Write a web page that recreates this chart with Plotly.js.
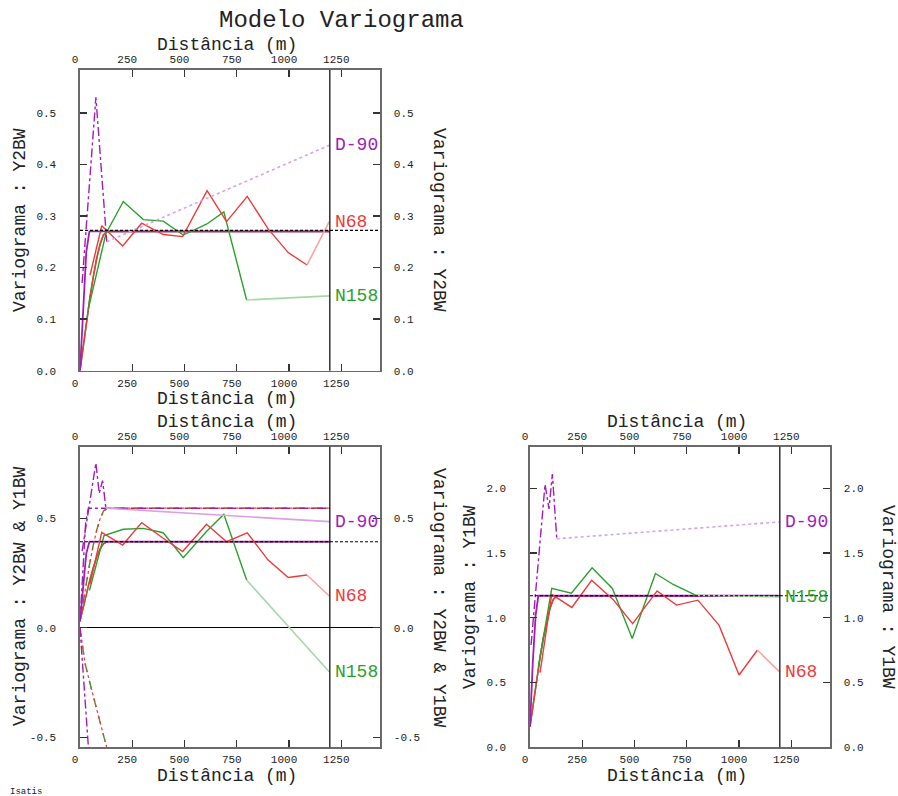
<!DOCTYPE html>
<html>
<head>
<meta charset="utf-8">
<script src="https://cdn.plot.ly/plotly-3.0.1.min.js"></script>
<style>html,body{margin:0;padding:0;background:#fff;}#chart{width:898px;height:796px;}</style>
</head>
<body>
<div id="chart"></div>
<script>
// ---------- shared ----------
const xTicks = [0, 250, 500, 750, 1000, 1250];
const xMax = 1435;
const maxDist = 1195;
const dirNames = ['D-90', 'N68', 'N158'];

// ---------- top-left: Y2BW ----------
const tlN68H  = [48, 104, 204, 295, 398, 491, 608, 701, 800, 900, 996, 1086, 1192];
const tlN68G  = [0.185, 0.281, 0.242, 0.286, 0.264, 0.260, 0.349, 0.289, 0.338, 0.275, 0.229, 0.205, 0.289];
const tlN158H = [40, 124, 207, 303, 398, 494, 605, 688, 797, 1192];
const tlN158G = [0.12, 0.266, 0.328, 0.293, 0.290, 0.263, 0.284, 0.308, 0.137, 0.145];
const tlD90H  = [10, 76, 128, 1192];
const tlD90G  = [0.17, 0.530, 0.250, 0.437];
const tlModelH  = [0, 16, 32, 48, 64, 80, 96, 112, 130, 1195];
const tlModelG  = [0, 0.050, 0.098, 0.143, 0.183, 0.218, 0.245, 0.263, 0.270, 0.270];
const tlModelDH = [0, 15, 30, 45, 1195];
const tlModelDG = [0, 0.130, 0.230, 0.270, 0.270];
const tlSill = 0.272;
const tlYTicks = [0, 0.1, 0.2, 0.3, 0.4, 0.5];
const tlYMax = 0.583;

// ---------- bottom-left: Y2BW & Y1BW ----------
const blN68H  = [48, 104, 204, 295, 398, 491, 605, 701, 800, 900, 996, 1086, 1192];
const blN68G  = [0.20, 0.436, 0.378, 0.480, 0.409, 0.348, 0.473, 0.393, 0.434, 0.309, 0.230, 0.241, 0.145];
const blN158H = [45, 115, 207, 303, 398, 494, 605, 688, 797, 1192];
const blN158G = [0.17, 0.421, 0.450, 0.454, 0.434, 0.320, 0.440, 0.518, 0.218, -0.201];
const blD90H  = [10, 76, 92, 108, 124, 1192];
const blD90G  = [0.35, 0.752, 0.614, 0.672, 0.546, 0.485];
const blModelH    = [0, 16, 32, 48, 64, 80, 96, 112, 130, 1195];
const blModelLow  = [0.03, 0.097, 0.161, 0.222, 0.276, 0.323, 0.359, 0.383, 0.393, 0.393];
const blModelHigh = [0.03, 0.125, 0.217, 0.302, 0.380, 0.446, 0.497, 0.532, 0.546, 0.546];
const blModelDLowH  = [0, 15, 30, 45, 1195];
const blModelDLowG  = [0.03, 0.205, 0.339, 0.393, 0.393];
const blModelDHighH = [0, 13, 27, 40, 1195];
const blModelDHighG = [0.03, 0.278, 0.478, 0.546, 0.546];
const blHullH  = [0, 24, 56, 96, 127, 160];
const blHullG  = [0, -0.163, -0.285, -0.437, -0.544, -0.62];
const blHullDH = [0, 20, 42];
const blHullDG = [0, -0.28, -0.57];
const blSill = 0.393;
const blYTicks = [-0.5, 0, 0.5];
const blYMin = -0.546, blYMax = 0.827;

// ---------- bottom-right: Y1BW ----------
const brN68H  = [48, 104, 200, 295, 398, 491, 608, 701, 803, 904, 1000, 1088, 1192];
const brN68G  = [0.576, 1.18, 1.08, 1.29, 1.14, 0.955, 1.208, 1.098, 1.136, 0.943, 0.558, 0.751, 0.584];
const brN158H = [40, 104, 198, 297, 394, 489, 600, 685, 792, 1192];
const brN158G = [0.62, 1.227, 1.19, 1.386, 1.227, 0.84, 1.342, 1.257, 1.175, 1.16];
const brD90H  = [5, 72, 91, 107, 128, 1192];
const brD90G  = [0.79, 2.03, 1.84, 2.11, 1.61, 1.74];
const brModelH  = [0, 16, 32, 48, 64, 80, 96, 112, 130, 1195];
const brModelG  = [0.16, 0.346, 0.526, 0.693, 0.846, 0.975, 1.075, 1.143, 1.17, 1.17];
const brModelDH = [0, 13, 27, 40, 1195];
const brModelDG = [0.16, 0.646, 1.02, 1.17, 1.17];
const brSill = 1.17;
const brYTicks = [0, 0.5, 1.0, 1.5, 2.0];
const brYMax = 2.321;

// ---------- styling ----------
const FONT = '"Liberation Mono", "Courier New", monospace';
const RED = '#ee3a3a', RED_L = '#f7a4a4';
const GREEN = '#2ca02c', GREEN_L = '#a6d8a6';
const PURPLE = '#a21cb8', PURPLE_L = '#d9a0e2';
const AXC = '#6a6a6a';
const W = 898, H = 796;
const px = v => v / W;
const py = v => 1 - v / H;

const traces = [];
function line(xa, ya, x, y, color, width, dash, opacity) {
  traces.push({type: 'scatter', mode: 'lines', xaxis: xa, yaxis: ya, x: x, y: y,
    line: {color: color, width: width, dash: dash || 'solid'}, opacity: opacity == null ? 1 : opacity,
    hoverinfo: 'skip', showlegend: false});
}
function expSeries(xa, ya, h, g, color, light, dash, lightDash) {
  const n = h.length;
  line(xa, ya, h.slice(0, n - 1), g.slice(0, n - 1), color, 1.4, dash);
  line(xa, ya, h.slice(n - 2), g.slice(n - 2), light, 1.6, lightDash || 'solid');
}

// TL
line('x', 'y', tlModelH, tlModelG, GREEN, 1.6);
line('x', 'y', tlModelH, tlModelG, RED, 1.4);
line('x', 'y', tlModelDH, tlModelDG, PURPLE, 1.8);
expSeries('x', 'y', tlN158H, tlN158G, GREEN, GREEN_L);
expSeries('x', 'y', tlN68H, tlN68G, RED, RED_L);
expSeries('x', 'y', tlD90H, tlD90G, PURPLE, PURPLE_L, 'dashdot', 'dot');

// BL
line('x3', 'y3', blModelH, blModelLow, GREEN, 1.5);
line('x3', 'y3', blModelH, blModelLow, RED, 1.3);
line('x3', 'y3', blModelH, blModelHigh, GREEN, 1.4, 'dash');
line('x3', 'y3', blModelH, blModelHigh, RED, 1.2, 'dot');
line('x3', 'y3', blModelDLowH, blModelDLowG, PURPLE, 1.8);
line('x3', 'y3', blModelDHighH, blModelDHighG, PURPLE, 1.4, 'dashdot');
line('x3', 'y3', blHullH, blHullG, GREEN, 1.4, 'dash');
line('x3', 'y3', blHullH, blHullG, RED, 1.2, 'dot');
line('x3', 'y3', blHullDH, blHullDG, PURPLE, 1.4, 'dashdot');
expSeries('x3', 'y3', blN158H, blN158G, GREEN, GREEN_L);
expSeries('x3', 'y3', blN68H, blN68G, RED, RED_L);
expSeries('x3', 'y3', blD90H, blD90G, PURPLE, PURPLE_L, 'dashdot', 'solid');

// BR
line('x5', 'y5', brModelH, brModelG, GREEN, 1.6);
line('x5', 'y5', brModelH, brModelG, RED, 1.4);
line('x5', 'y5', brModelDH, brModelDG, PURPLE, 1.8);
expSeries('x5', 'y5', brN158H, brN158G, GREEN, GREEN_L);
expSeries('x5', 'y5', brN68H, brN68G, RED, RED_L);
expSeries('x5', 'y5', brD90H, brD90G, PURPLE, PURPLE_L, 'dashdot', 'dot');

// dummy traces so overlay axes exist
[['x2','y'],['x','y2'],['x4','y3'],['x3','y4'],['x6','y5'],['x5','y6']].forEach(p => {
  traces.push({type:'scatter', mode:'lines', xaxis:p[0], yaxis:p[1], x:[null], y:[null], hoverinfo:'skip', showlegend:false});
});

// ---------- axes ----------
const tickFont = {family: FONT, size: 11, color: '#222'};
function xAxis(domain, side, anchor, overlay) {
  const a = {domain: domain, anchor: anchor, side: side, range: [0, xMax], tickvals: xTicks,
    ticktext: xTicks.map(String), ticks: 'inside', ticklen: 7, tickwidth: 1.4, tickcolor: '#333',
    showline: true, linecolor: AXC, linewidth: 1.6, showgrid: false, zeroline: false,
    tickfont: tickFont, ticklabelstandoff: 1, ticklabelshift: -5, fixedrange: true};
  if (overlay) a.overlaying = overlay;
  return a;
}
function yAxis(domain, side, anchor, range, ticks, overlay, zero) {
  const a = {domain: domain, anchor: anchor, side: side, range: range, tickvals: ticks,
    ticktext: ticks.map(v => v.toFixed(1)), ticks: 'inside', ticklen: 7, tickwidth: 1.4, tickcolor: '#333',
    showline: true, linecolor: AXC, linewidth: 1.6, showgrid: false, zeroline: !!zero,
    zerolinecolor: '#000', zerolinewidth: 1.2,
    tickfont: tickFont, ticklabelstandoff: side === 'left' ? 20 : 10, fixedrange: true};
  if (overlay) a.overlaying = overlay;
  return a;
}
const colL = [px(80), px(380)], colR = [px(530), px(830)];
const rowT = [py(370.7), py(70)], rowB = [py(747.3), py(446.7)];

const layout = {
  width: W, height: H, margin: {l: 0, r: 0, t: 0, b: 0},
  paper_bgcolor: '#fff', plot_bgcolor: '#fff', showlegend: false,
  font: {family: FONT},
  xaxis:  xAxis(colL, 'bottom', 'y'),
  xaxis2: xAxis(colL, 'top', 'y', 'x'),
  yaxis:  yAxis(rowT, 'left', 'x', [0, tlYMax], tlYTicks),
  yaxis2: yAxis(rowT, 'right', 'x', [0, tlYMax], tlYTicks, 'y'),
  xaxis3: xAxis(colL, 'bottom', 'y3'),
  xaxis4: xAxis(colL, 'top', 'y3', 'x3'),
  yaxis3: yAxis(rowB, 'left', 'x3', [blYMin, blYMax], blYTicks, null, true),
  yaxis4: yAxis(rowB, 'right', 'x3', [blYMin, blYMax], blYTicks, 'y3'),
  xaxis5: xAxis(colR, 'bottom', 'y5'),
  xaxis6: xAxis(colR, 'top', 'y5', 'x5'),
  yaxis5: yAxis(rowB, 'left', 'x5', [0, brYMax], brYTicks),
  yaxis6: yAxis(rowB, 'right', 'x5', [0, brYMax], brYTicks, 'y5'),
  shapes: [], annotations: []
};

// vertical max-distance lines and sill lines
[['x','y'],['x3','y3'],['x5','y5']].forEach(p => {
  layout.shapes.push({type:'line', xref:p[0], yref:p[1] + ' domain', x0:maxDist, x1:maxDist, y0:0, y1:1,
    line:{color:'#000', width:1.2}});
});
[['y', tlSill], ['y3', blSill], ['y5', brSill]].forEach(p => {
  const xr = p[0] === 'y' ? 'x' : (p[0] === 'y3' ? 'x3' : 'x5');
  layout.shapes.push({type:'line', xref:xr + ' domain', yref:p[0], x0:0, x1:1, y0:p[1], y1:p[1],
    line:{color:'#000', width:1.1, dash:'3px,2px'}});
});

// titles
const titleFont = {family: FONT, size: 18, color: '#222'};
function ann(text, x, y, opts) {
  layout.annotations.push(Object.assign({text: text, xref:'paper', yref:'paper', x: px(x), y: py(y),
    showarrow:false, xanchor:'center', yanchor:'middle', font: titleFont}, opts || {}));
}
ann('Modelo Variograma', 341, 20, {font: {family: FONT, size: 24, color: '#222'}});
ann('Distância (m)', 227, 45);
ann('Distância (m)', 227, 399);
ann('Distância (m)', 227, 422);
ann('Distância (m)', 227, 776);
ann('Distância (m)', 677, 422);
ann('Distância (m)', 677, 776);
ann('Variograma : Y2BW', 20, 220, {textangle: -90});
ann('Variograma : Y2BW', 439, 220, {textangle: 90});
ann('Variograma : Y2BW & Y1BW', 20, 597, {textangle: -90});
ann('Variograma : Y2BW & Y1BW', 439, 597, {textangle: 90});
ann('Variograma : Y1BW', 470, 597, {textangle: -90});
ann('Variograma : Y1BW', 888, 597, {textangle: 90});
ann('Isatis', 8, 792, {xanchor: 'left', font: {family: FONT, size: 9, color: '#222'}});

// direction labels at curve ends
const labelColors = [PURPLE, RED, GREEN];
function dirLabels(xa, ya, lastVals) {
  lastVals.forEach((v, i) => {
    layout.annotations.push({text: dirNames[i], xref: xa, yref: ya, x: maxDist, y: v, xanchor: 'left', xshift: 3,
      yanchor: 'middle', showarrow: false, font: {family: FONT, size: 18, color: labelColors[i]}});
  });
}
dirLabels('x', 'y', [tlD90G[tlD90G.length-1], tlN68G[tlN68G.length-1], tlN158G[tlN158G.length-1]]);
dirLabels('x3', 'y3', [blD90G[blD90G.length-1], blN68G[blN68G.length-1], blN158G[blN158G.length-1]]);
dirLabels('x5', 'y5', [brD90G[brD90G.length-1], brN68G[brN68G.length-1], brN158G[brN158G.length-1]]);

Plotly.newPlot('chart', traces, layout, {staticPlot: true, displayModeBar: false});
</script>
</body>
</html>
